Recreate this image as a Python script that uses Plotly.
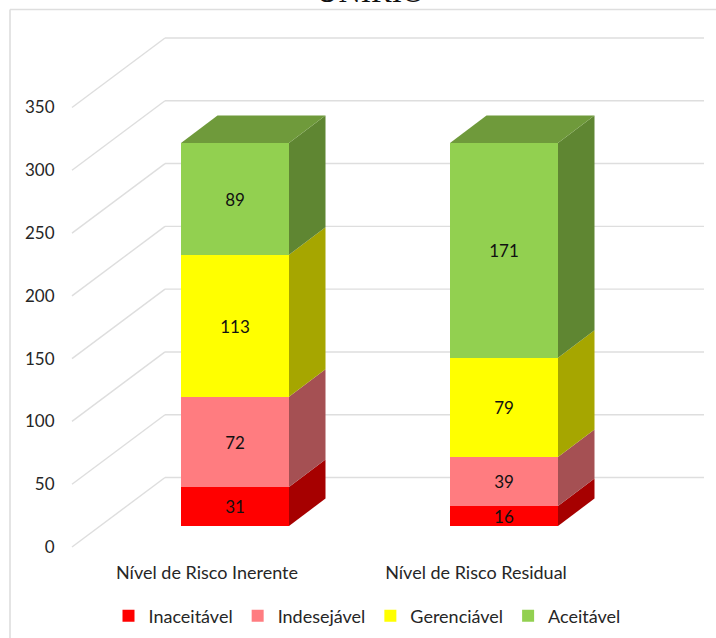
import plotly.graph_objects as go

categories = ["Nível de Risco Inerente", "Nível de Risco Residual"]
series_names = ["Inaceitável", "Indesejável", "Gerenciável", "Aceitável"]
inaceitavel = [31, 16]
indesejavel = [72, 39]
gerenciavel = [113, 79]
aceitavel = [89, 171]
series_values = [inaceitavel, indesejavel, gerenciavel, aceitavel]
axis_ticks = [0, 50, 100, 150, 200, 250, 300, 350]
title_text = "UNIRIO"

front_colors = ["#FF0000", "#FF7C80", "#FFFF00", "#92D050"]
side_colors = ["#A60000", "#A55053", "#A6A600", "#5F8632"]
top_color = "#6F9A3B"
grid_color = "#DEDEDE"
text_color = "#262626"
FONT = "Lato, Carlito, sans-serif"

W, H = 716, 638
PLOT_BOTTOM = 557
PX_PER_VALUE = 1.2557
PX_PER_CAT = 269.0
ZERO_PX = 526.0
CAT0_PX = 235.0
BAR_W = 108.0 / PX_PER_CAT


def xv(px):
    return (px - CAT0_PX) / PX_PER_CAT


def yv(px):
    return (ZERO_PX - px) / PX_PER_VALUE


depth_x = 36.5 / PX_PER_CAT
depth_y = 27.5 / PX_PER_VALUE
wall_shift_y = yv(477.5)
front_shift_y = yv(547.0)
wall_left, front_left, wall_right = xv(165), xv(72), xv(704)

fig = go.Figure()
positions = list(range(len(categories)))

for name, vals, col in zip(series_names, series_values, front_colors):
    fig.add_trace(go.Bar(
        x=positions, y=vals, name=name, width=BAR_W,
        marker=dict(color=col, line=dict(width=0)),
        text=vals, textposition="inside", insidetextanchor="middle",
        textangle=0, constraintext="none",
        textfont=dict(family=FONT, size=17, color="#111111"),
        hoverinfo="skip",
    ))

for i, pos in enumerate(positions):
    base = 0
    right = pos + BAR_W / 2
    left = pos - BAR_W / 2
    for vals, col in zip(series_values, side_colors):
        top = base + vals[i]
        fig.add_trace(go.Scatter(
            x=[right, right + depth_x, right + depth_x, right, right],
            y=[base, base + depth_y, top + depth_y, top, base],
            fill="toself", fillcolor=col, mode="lines", line=dict(width=0),
            showlegend=False, hoverinfo="skip",
        ))
        base = top
    fig.add_trace(go.Scatter(
        x=[left, right, right + depth_x, left + depth_x, left],
        y=[base, base, base + depth_y, base + depth_y, base],
        fill="toself", fillcolor=top_color, mode="lines", line=dict(width=0),
        showlegend=False, hoverinfo="skip",
    ))

# invisible trace that keeps the shifted value axis alive
fig.add_trace(go.Scatter(
    x=[0, 0], y=[axis_ticks[0], axis_ticks[-1]], yaxis="y2", mode="markers",
    marker=dict(size=1, opacity=0), showlegend=False, hoverinfo="skip",
))

shapes = []
for t in axis_ticks:
    shapes.append(dict(type="line", xref="x", yref="y", layer="below",
                       x0=front_left, x1=wall_left,
                       y0=t + front_shift_y, y1=t + wall_shift_y,
                       line=dict(color=grid_color, width=1.4)))
    shapes.append(dict(type="line", xref="x", yref="y", layer="below",
                       x0=wall_left, x1=wall_right,
                       y0=t + wall_shift_y, y1=t + wall_shift_y,
                       line=dict(color=grid_color, width=1.4)))
# chart frame
shapes.append(dict(type="line", xref="paper", yref="paper", layer="below",
                   x0=10 / W, x1=1, y0=1 - 9.5 / PLOT_BOTTOM, y1=1 - 9.5 / PLOT_BOTTOM,
                   line=dict(color=grid_color, width=1.6)))
shapes.append(dict(type="line", xref="paper", yref="paper", layer="below",
                   x0=10 / W, x1=10 / W, y0=1 - 9.5 / PLOT_BOTTOM, y1=1 - H / PLOT_BOTTOM,
                   line=dict(color=grid_color, width=1.6)))

rng_y = [yv(PLOT_BOTTOM), yv(0)]
fig.update_layout(
    width=W, height=H, autosize=False,
    margin=dict(l=0, r=0, t=0, b=H - PLOT_BOTTOM, pad=0),
    paper_bgcolor="white", plot_bgcolor="rgba(0,0,0,0)",
    barmode="stack", bargap=0,
    shapes=shapes,
    xaxis=dict(range=[xv(0), xv(W)], showgrid=False, zeroline=False, showline=False,
               tickmode="array", tickvals=[p + xv(207) for p in positions],
               ticktext=categories, ticks="", ticklabelstandoff=3,
               tickfont=dict(family=FONT, size=18, color=text_color)),
    yaxis=dict(range=rng_y, visible=False, fixedrange=True),
    yaxis2=dict(range=[r - front_shift_y for r in rng_y], overlaying="y", anchor="free",
                position=54.5 / W, side="left", showgrid=False, zeroline=False, showline=False,
                tickmode="array", tickvals=axis_ticks, ticks="",
                tickfont=dict(family=FONT, size=17, color=text_color)),
    legend=dict(orientation="h", xanchor="center", x=367 / W, yanchor="middle",
                y=1 - 616 / PLOT_BOTTOM, traceorder="normal",
                font=dict(family=FONT, size=18, color=text_color),
                itemclick=False, itemdoubleclick=False,
                bgcolor="rgba(0,0,0,0)"),
    annotations=[dict(text=title_text, xref="paper", yref="paper", x=370 / W, y=1,
                      xanchor="center", yanchor="bottom", yshift=-11, showarrow=False,
                      font=dict(family="Liberation Serif, serif", size=31, color="#111111"))],
)

fig.write_html("out.html", config=dict(displayModeBar=False),
               post_script="document.body.style.margin='0';")
